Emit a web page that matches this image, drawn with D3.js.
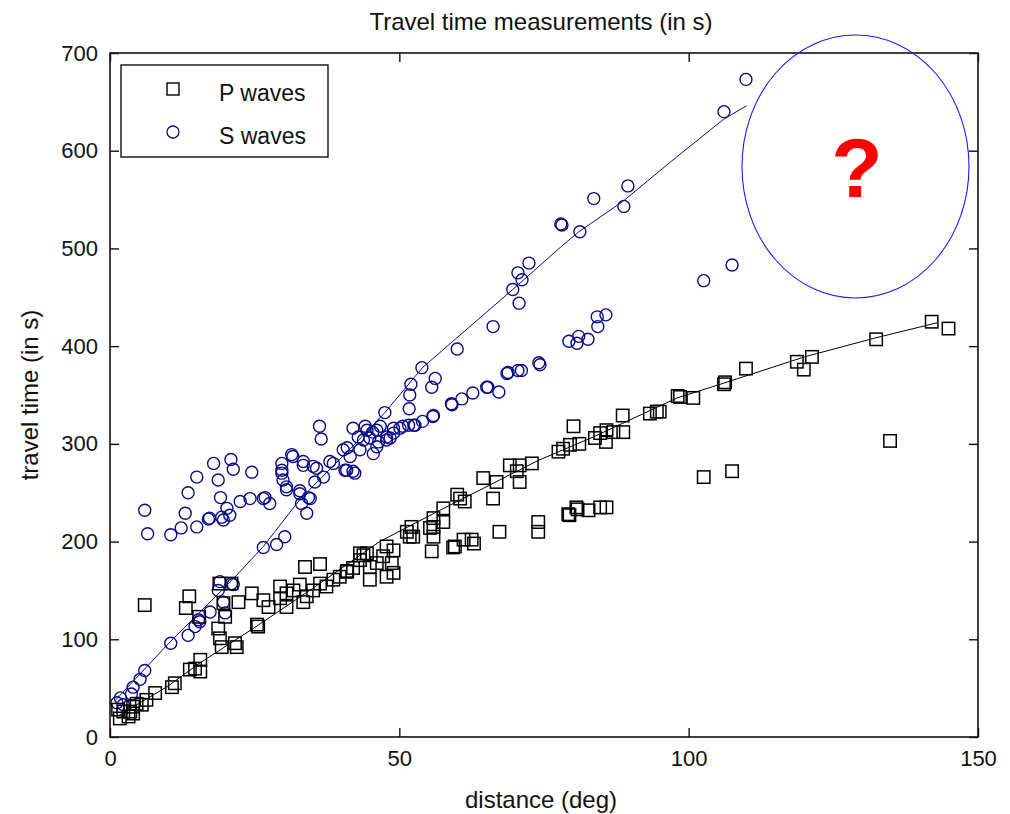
<!DOCTYPE html>
<html>
<head>
<meta charset="utf-8">
<script src="https://cdn.jsdelivr.net/npm/d3@7"></script>
<style>
  html, body { margin: 0; padding: 0; background: #fff; }
  svg { display: block; }
  text { font-family: "Liberation Sans", Arial, Helvetica, sans-serif; fill: #111; }
</style>
</head>
<body>
<svg id="chart" width="1010" height="814"></svg>
<script>
// Axis ticks
const xTicks = [0, 50, 100, 150];
const yTicks = [0, 100, 200, 300, 400, 500, 600, 700];

// P wave arrivals: [distance (deg), travel time (s)]
const pWaves = [
  [1.4,28],[1.7,19],[2.3,26],[3.2,21],[3.5,26],[4.0,24],[4.0,31],[4.6,34],[5.5,33],[6.3,38],
  [7.8,45],[10.7,51],[11.2,55],[13.8,69],[14.7,70],[15.6,67],[15.6,79],[6.0,135],[13.7,144],[13.1,132],
  [15.4,123],[18.7,111],[19.0,101],[21.6,96],[19.3,92],[21.9,92],[25.6,113],[25.4,115],[18.9,157],[21.0,157],
  [19.6,137],[19.9,123],[22.2,138],[24.5,147],[26.5,140],[27.4,133],[29.4,154],[29.4,142],[30.5,147],[31.7,150],
  [32.8,156],[33.7,174],[36.3,177],[34.0,144],[35.1,150],[36.3,157],[37.4,154],[38.6,161],[39.7,164],[40.9,169],
  [42.0,173],[43.2,181],[43.8,186],[44.9,174],[46.1,178],[47.2,185],[47.8,195],[49.0,191],[48.7,178],[44.9,161],
  [30.5,133],[33.4,138],[44.4,188],[49.0,168],[47.8,164],[51.3,210],[52.4,205],[55.3,214],[55.9,205],[51.8,205],
  [52.1,215],[55.9,215],[55.9,224],[57.6,220],[57.6,234],[60.0,248],[60.5,244],[61.3,241],[66.2,244],[64.5,265],
  [66.8,261],[70.8,261],[70.3,272],[69.1,278],[70.8,278],[72.9,280],[77.5,292],[78.3,295],[79.5,299],[81.1,300],
  [80.1,318],[83.8,306],[84.7,311],[85.7,302],[85.8,314],[87.0,312],[88.7,312],[88.6,329],[93.3,331],[94.5,333],
  [95.0,333],[98.1,349],[98.5,348],[100.8,347],[106.1,361],[106.3,363],[109.9,377],[118.7,384],[119.9,376],[121.3,389],
  [132.4,407],[142.0,425],[144.9,418],[43.2,188],[41.0,170],
  [55.6,190],[59.3,194],[59.6,195],[62.9,198],[61.1,202],[62.5,202],[67.3,210],[74.0,210],[74.0,220],[79.2,228],
  [79.4,227],[80.6,235],[80.8,233],[82.7,232],[84.7,235],[85.8,235],[102.6,266],[107.5,272],[134.8,303]
];

// S wave arrivals: [distance (deg), travel time (s)]
const sWaves = [
  [1.2,35],[1.8,40],[2.3,33],[3.7,44],[4.0,51],[5.2,59],[6.0,68],[10.5,96],[13.5,104],[14.7,113],
  [15.3,120],[15.5,118],[17.3,128],[19.9,127],[19.6,138],[18.7,150],[19.0,159],[21.0,157],[21.3,156],[26.5,194],
  [28.8,197],[30.2,205],
  [6.0,232],[6.5,208],[10.5,207],[12.3,214],[15.0,215],[13.5,250],[15.0,266],[17.9,280],[18.7,263],[20.9,284],
  [21.3,274],[24.5,271],[19.1,245],[13.0,229],[17.0,223],[17.2,224],[19.6,222],[20.2,234],[22.5,241],[24.2,244],
  [26.5,244],[26.8,245],[27.6,239],[19.3,225],[20.7,227],
  [29.7,280],[29.7,270],[29.7,273],[29.9,263],[30.5,253],[30.5,256],[31.4,289],[31.6,287],[32.8,249],[32.8,252],
  [33.1,239],[33.4,278],[33.4,282],[34.0,229],[34.3,245],[34.6,244],[35.1,277],[35.4,261],[35.7,275],[36.2,318],
  [36.5,305],[36.9,266],[38.0,282],[38.6,280],[40.3,294],[40.6,273],[40.9,273],[41.0,296],[41.5,287],[42.0,316],
  [42.0,272],[42.3,270],[42.9,307],[43.2,294],[43.8,304],[44.1,318],[44.4,314],[44.9,306],[45.4,312],[45.5,290],
  [46.1,297],[46.1,314],[46.4,302],[46.7,318],[47.5,332],[47.8,304],[47.8,307],[48.4,306],[49.0,311],[49.0,316],
  [50.1,316],[50.6,318],[51.6,319],[52.5,319],[52.7,319],[54.0,323],[55.8,328],[55.9,329],[59.0,341],[59.1,340],
  [60.8,346],[62.7,352],[65.1,358],[65.3,358],[67.2,353],[68.6,372],[68.8,373],[70.5,375],[71.1,375],[74.1,383],
  [74.3,381],[79.3,405],[80.7,403],[81.0,410],[82.6,407],[84.3,420],[84.2,430],[85.7,432],[102.6,467],[107.5,483],
  [51.7,336],[51.8,350],[52.0,361],[53.9,378],[55.6,358],[56.2,367],[60.0,397],[66.2,420],[69.6,458],[70.5,475],
  [70.7,444],[71.2,468],[72.4,485],[77.9,525],[78.1,524],[81.2,517],[83.6,551],[88.8,543],[89.5,564],[106.1,640],
  [109.9,673]
];

// Smoothed travel-time curves
const pFit = [
  [1.5,22],[10,52],[15.6,76],[25,112],[35,152],[46.6,200],[57,232],[61,244],[74,283],[83.5,307],
  [90.4,326],[98,347],[106,362],[120,389],[132,408],[143,424]
];
const sFit = [
  [1,38],[10,95],[21,160],[26.5,195],[32.8,243],[43,304],[47.5,332],[54,378],[69.6,458],[78,502],
  [81,517],[88.6,548],[98,594],[106,632],[110,646]
];

const pColor = "#000000";
const sColor = "#0b0b8a";

const svg = d3.select("#chart");
const plotLeft = 110, plotRight = 978, plotTop = 53, plotBottom = 737;

const x = d3.scaleLinear().domain([0, 150]).range([plotLeft, plotRight]);
const y = d3.scaleLinear().domain([0, 700]).range([plotBottom, plotTop]);

// Plot background
svg.append("rect").attr("x", plotLeft).attr("y", plotTop)
  .attr("width", plotRight - plotLeft).attr("height", plotBottom - plotTop).attr("fill", "#fff");

// Fitted curves
const line = d3.line().x(d => x(d[0])).y(d => y(d[1]));
svg.append("path").datum(pFit).attr("d", line)
  .attr("fill", "none").attr("stroke", pColor).attr("stroke-width", 1);
svg.append("path").datum(sFit).attr("d", line)
  .attr("fill", "none").attr("stroke", sColor).attr("stroke-width", 1);

// S markers (circles)
svg.append("g").selectAll("circle").data(sWaves).join("circle")
  .attr("cx", d => x(d[0])).attr("cy", d => y(d[1])).attr("r", 6)
  .attr("fill", "none").attr("stroke", sColor).attr("stroke-width", 1.4);

// P markers (squares)
const half = 6.2;
svg.append("g").selectAll("rect").data(pWaves).join("rect")
  .attr("x", d => x(d[0]) - half).attr("y", d => y(d[1]) - half)
  .attr("width", half * 2).attr("height", half * 2)
  .attr("fill", "none").attr("stroke", pColor).attr("stroke-width", 1.5);

// Axes with inward ticks on all four sides
const tickLen = 9;
const axFont = "22px";
const gx = svg.append("g").attr("transform", `translate(0,${plotBottom})`)
  .call(d3.axisBottom(x).tickValues(xTicks).tickSizeInner(-tickLen).tickSizeOuter(0).tickPadding(13));
const gxTop = svg.append("g").attr("transform", `translate(0,${plotTop})`)
  .call(d3.axisTop(x).tickValues(xTicks).tickSizeInner(-tickLen).tickSizeOuter(0).tickFormat(""));
const gy = svg.append("g").attr("transform", `translate(${plotLeft},0)`)
  .call(d3.axisLeft(y).tickValues(yTicks).tickSizeInner(-tickLen).tickSizeOuter(0).tickPadding(12));
const gyRight = svg.append("g").attr("transform", `translate(${plotRight},0)`)
  .call(d3.axisRight(y).tickValues(yTicks).tickSizeInner(-tickLen).tickSizeOuter(0).tickFormat(""));

[gx, gxTop, gy, gyRight].forEach(g => {
  g.select(".domain").remove();
  g.selectAll(".tick line").attr("stroke", "#111").attr("stroke-width", 1.4);
  g.selectAll(".tick text").attr("font-size", axFont)
    .attr("font-family", "Liberation Sans, Arial, sans-serif").attr("fill", "#111");
});

// Frame
svg.append("rect").attr("x", plotLeft).attr("y", plotTop)
  .attr("width", plotRight - plotLeft).attr("height", plotBottom - plotTop)
  .attr("fill", "none").attr("stroke", "#111").attr("stroke-width", 1.6);

// Titles
svg.append("text").attr("x", 541).attr("y", 30).attr("text-anchor", "middle")
  .attr("font-size", "24px").text("Travel time measurements (in s)");
svg.append("text").attr("x", 541).attr("y", 808).attr("text-anchor", "middle")
  .attr("font-size", "24px").text("distance (deg)");
svg.append("text").attr("transform", "translate(38,395) rotate(-90)").attr("text-anchor", "middle")
  .attr("font-size", "24px").text("travel time (in s)");

// Legend
const legend = svg.append("g");
legend.append("rect").attr("x", 121).attr("y", 65).attr("width", 207).attr("height", 92)
  .attr("fill", "#fff").attr("stroke", "#111").attr("stroke-width", 1.4);
legend.append("rect").attr("x", 173 - 6).attr("y", 89 - 6).attr("width", 12).attr("height", 12)
  .attr("fill", "none").attr("stroke", pColor).attr("stroke-width", 1.4);
legend.append("circle").attr("cx", 173).attr("cy", 132).attr("r", 6)
  .attr("fill", "none").attr("stroke", sColor).attr("stroke-width", 1.3);
legend.append("text").attr("x", 219).attr("y", 101).attr("font-size", "23px").text("P waves");
legend.append("text").attr("x", 219).attr("y", 144).attr("font-size", "23px").text("S waves");

// Question mark callout
svg.append("ellipse").attr("cx", 855.5).attr("cy", 166.5).attr("rx", 113.5).attr("ry", 131.5)
  .attr("fill", "none").attr("stroke", "#1a1aff").attr("stroke-width", 1.1);
svg.append("text").attr("x", 857).attr("y", 197).attr("text-anchor", "middle")
  .attr("font-size", "84px").attr("font-weight", "bold").style("fill", "#ff0000").text("?");
</script>
</body>
</html>
